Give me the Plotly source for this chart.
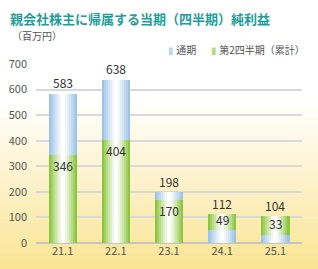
import plotly.graph_objects as go

categories = ["21.1", "22.1", "23.1", "24.1", "25.1"]
full_year = [583, 638, 198, 112, 104]
q2_cumulative = [346, 404, 170, 49, 33]
# which series sits in the lower segment of each bar (as drawn in the reference)
lower_is_q2 = [True, True, True, False, False]
y_ticks = [0, 100, 200, 300, 400, 500, 600, 700]

BLUE = (157, 195, 230)
GREEN = (140, 198, 63)
WHITE = (255, 255, 255)
FONT = "Noto Sans CJK JP"

PAPER_BOTTOM = 269
PAPER_H = 205


def mix(c1, c2, t):
    return "rgb(%d,%d,%d)" % tuple(round(a + (b - a) * t) for a, b in zip(c1, c2))


def py(pix):
    return (PAPER_BOTTOM - pix) / PAPER_H


lower_top = []
lower_col = []
upper_col = []
for fy, q2, lq in zip(full_year, q2_cumulative, lower_is_q2):
    lower_top.append(q2)
    lower_col.append(GREEN if lq else BLUE)
    upper_col.append(BLUE if lq else GREEN)

lower_h = lower_top
upper_h = [fy - lt for fy, lt in zip(full_year, lower_top)]

fig = go.Figure()
W = 0.53
N = 7
for base, heights, cols in [([0] * 5, lower_h, lower_col),
                            (lower_top, upper_h, upper_col)]:
    for k in range(N):
        t = k / (N - 1)
        frac = 1 - k / N
        fig.add_trace(go.Bar(
            x=categories, y=heights, base=base,
            width=W * frac,
            marker=dict(color=[mix(c, WHITE, t ** 0.9) for c in cols], line=dict(width=0)),
            showlegend=False, hoverinfo="skip",
        ))

annotations = []
for i, fy in enumerate(full_year):
    annotations.append(dict(x=i, y=fy, text=str(fy), showarrow=False, yshift=11,
                            font=dict(family=FONT, size=12, color="#333333")))
for i, (q2, lq) in enumerate(zip(q2_cumulative, lower_is_q2)):
    annotations.append(dict(x=i, y=q2, text=str(q2), showarrow=False,
                            yshift=-11 if lq else 11,
                            font=dict(family=FONT, size=12, color="#333333")))

annotations.append(dict(xref="paper", yref="paper", x=(166 - 36) / 266, y=py(50),
                        xanchor="left", yanchor="middle", showarrow=False,
                        text="<span style='color:#bcd6ef'>▮</span> 通期",
                        font=dict(family=FONT, size=10, color="#555555")))
annotations.append(dict(xref="paper", yref="paper", x=(209 - 36) / 266, y=py(50),
                        xanchor="left", yanchor="middle", showarrow=False,
                        text="<span style='color:#b5db85'>▮</span> 第2四半期（累計）",
                        font=dict(family=FONT, size=10, color="#555555")))
annotations.append(dict(xref="paper", yref="paper", x=(10 - 36) / 266, y=py(35),
                        xanchor="left", yanchor="middle", showarrow=False,
                        text="（百万円）",
                        font=dict(family=FONT, size=10, color="#555555")))

shapes = []
y_start, y_end = 100, 275
nb = 40
end_col = (250, 228, 146)
for i in range(nb):
    p0 = y_start + (y_end - y_start) * i / nb
    p1 = y_start + (y_end - y_start) * (i + 1) / nb + 0.5
    t = min(1.0, (i + 0.5) / nb * (y_end - y_start) / (269 - y_start))
    shapes.append(dict(type="rect", xref="paper", yref="paper",
                       x0=-36 / 266, x1=(318 - 36) / 266,
                       y0=py(p1), y1=py(p0),
                       fillcolor=mix(WHITE, end_col, t), line=dict(width=0), layer="below"))

fig.update_layout(
    width=318, height=269,
    margin=dict(l=36, r=16, t=64, b=0, autoexpand=False),
    paper_bgcolor="white", plot_bgcolor="rgba(0,0,0,0)",
    barmode="overlay", bargap=0,
    showlegend=False,
    title=dict(text="<b>親会社株主に帰属する当期（四半期）純利益</b>",
               xref="container", yref="container", x=10 / 318, y=1 - 19 / 269,
               xanchor="left", yanchor="middle",
               font=dict(family=FONT, size=13, color="#1e9e9b")),
    xaxis=dict(type="category", range=[-0.5, len(categories) - 0.5], automargin=False,
               showgrid=False, showline=False, ticks="",
               tickfont=dict(family=FONT, size=11, color="#555555")),
    yaxis=dict(range=[0, 700], tickvals=y_ticks, showgrid=True, gridcolor="#d9d9d9",
               domain=[26 / 205, 1], automargin=False,
               gridwidth=1.5, zeroline=True, zerolinecolor="#c4c4c4", zerolinewidth=2,
               ticklabelstandoff=8,
               tickfont=dict(family=FONT, size=11, color="#555555")),
    annotations=annotations,
    shapes=shapes,
    font=dict(family=FONT),
)

fig.write_html("out.html")
